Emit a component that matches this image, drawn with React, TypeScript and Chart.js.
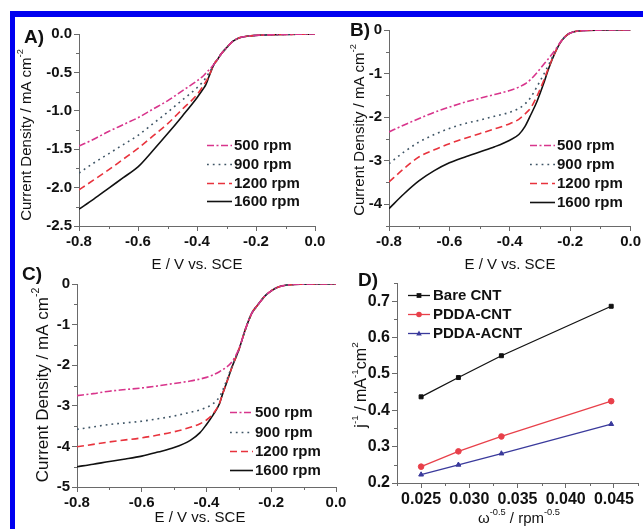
import React, { useEffect, useRef } from 'react';
import { Chart, registerables } from 'chart.js';
Chart.register(...registerables);

const W = 643;
const H = 529;
const FONT = '"Liberation Sans", Arial, sans-serif';
const AXIS = '#6a6a6a';
const TXT = '#111';

// ---------- Panel A data ----------
const eA = [-0.8, -0.75, -0.7, -0.65, -0.6, -0.55, -0.5, -0.45, -0.4, -0.38, -0.37, -0.36, -0.35, -0.34, -0.33, -0.32, -0.3, -0.28, -0.26, -0.24, -0.22, -0.2, -0.15, -0.1, -0.05, 0];
const a500 = [-1.46, -1.37, -1.27, -1.18, -1.09, -0.98, -0.87, -0.74, -0.61, -0.55, -0.51, -0.47, -0.43, -0.38, -0.33, -0.27, -0.18, -0.1, -0.055, -0.035, -0.025, -0.018, -0.01, -0.006, -0.003, 0];
const a900 = [-1.81, -1.68, -1.56, -1.44, -1.32, -1.17, -1.02, -0.86, -0.7, -0.62, -0.57, -0.51, -0.45, -0.38, -0.33, -0.27, -0.18, -0.1, -0.055, -0.035, -0.025, -0.018, -0.01, -0.006, -0.003, 0];
const a1200 = [-2.03, -1.9, -1.77, -1.63, -1.49, -1.33, -1.17, -0.98, -0.79, -0.68, -0.62, -0.55, -0.46, -0.38, -0.33, -0.27, -0.18, -0.1, -0.055, -0.035, -0.025, -0.018, -0.01, -0.006, -0.003, 0];
const a1600 = [-2.28, -2.15, -2.01, -1.87, -1.73, -1.52, -1.3, -1.07, -0.83, -0.72, -0.66, -0.56, -0.46, -0.38, -0.33, -0.27, -0.18, -0.1, -0.055, -0.035, -0.025, -0.018, -0.01, -0.006, -0.003, 0];

// ---------- Panel B data ----------
const eB = [-0.8, -0.75, -0.7, -0.65, -0.6, -0.55, -0.5, -0.45, -0.4, -0.37, -0.35, -0.33, -0.31, -0.29, -0.27, -0.25, -0.23, -0.21, -0.19, -0.17, -0.15, -0.1, -0.05, 0];
const b500 = [-2.34, -2.18, -2.03, -1.89, -1.77, -1.66, -1.57, -1.48, -1.39, -1.31, -1.24, -1.13, -0.98, -0.81, -0.64, -0.46, -0.26, -0.11, -0.045, -0.02, -0.008, -0.002, 0, 0];
const b900 = [-3.07, -2.8, -2.57, -2.4, -2.26, -2.15, -2.07, -1.98, -1.89, -1.8, -1.7, -1.54, -1.3, -1.05, -0.78, -0.5, -0.26, -0.11, -0.045, -0.02, -0.008, -0.002, 0, 0];
const b1200 = [-3.49, -3.18, -2.91, -2.75, -2.61, -2.49, -2.38, -2.27, -2.15, -2.05, -1.93, -1.78, -1.52, -1.2, -0.84, -0.52, -0.26, -0.11, -0.045, -0.02, -0.008, -0.002, 0, 0];
const b1600 = [-4.1, -3.76, -3.46, -3.23, -3.05, -2.92, -2.8, -2.68, -2.53, -2.4, -2.22, -1.94, -1.64, -1.27, -0.86, -0.52, -0.26, -0.11, -0.045, -0.02, -0.008, -0.002, 0, 0];

// ---------- Panel C data ----------
const eC = [-0.8, -0.75, -0.7, -0.65, -0.6, -0.55, -0.5, -0.45, -0.42, -0.4, -0.38, -0.36, -0.35, -0.34, -0.32, -0.3, -0.28, -0.26, -0.24, -0.22, -0.2, -0.18, -0.16, -0.14, -0.1, -0.05, 0];
const c500 = [-2.75, -2.7, -2.64, -2.6, -2.56, -2.51, -2.45, -2.39, -2.34, -2.3, -2.24, -2.16, -2.11, -2.06, -1.9, -1.6, -1.12, -0.72, -0.5, -0.3, -0.17, -0.08, -0.035, -0.015, -0.005, 0, 0];
const c900 = [-3.58, -3.52, -3.46, -3.42, -3.38, -3.32, -3.25, -3.16, -3.1, -3.04, -2.95, -2.78, -2.62, -2.42, -2.0, -1.62, -1.12, -0.72, -0.5, -0.3, -0.17, -0.08, -0.035, -0.015, -0.005, 0, 0];
const c1200 = [-4.01, -3.95, -3.89, -3.84, -3.79, -3.72, -3.64, -3.53, -3.44, -3.35, -3.2, -2.94, -2.7, -2.48, -2.02, -1.62, -1.12, -0.72, -0.5, -0.3, -0.17, -0.08, -0.035, -0.015, -0.005, 0, 0];
const c1600 = [-4.5, -4.44, -4.37, -4.31, -4.24, -4.14, -4.03, -3.85, -3.66, -3.46, -3.23, -2.95, -2.7, -2.48, -2.02, -1.62, -1.12, -0.72, -0.5, -0.3, -0.17, -0.08, -0.035, -0.015, -0.005, 0, 0];

// ---------- Panel D data ----------
const dX = [0.025, 0.02887, 0.03333, 0.04472];
const dBare = [0.437, 0.49, 0.55, 0.686];
const dPdda = [0.245, 0.287, 0.328, 0.425];
const dAcnt = [0.223, 0.25, 0.281, 0.362];

const rpmLabels = ['500 rpm', '900 rpm', '1200 rpm', '1600 rpm'];
const rpmColors = ['#d8358c', '#3f5566', '#e8333d', '#111111'];
const rpmDash = [[7, 2.5, 2, 2.5], [1.8, 4], [7, 4], []];

const dLabels = ['Bare CNT', 'PDDA-CNT', 'PDDA-ACNT'];
const dColors = ['#111111', '#e8404a', '#3a3a9c'];
const dMarkers = ['rect', 'circle', 'triangle'];

const pts = (xs: number[], ys: number[]) => xs.map((x, i) => ({ x, y: ys[i] }));

function rpmSets(xs: number[], series: number[][]) {
  return series.map((ys, i) => ({
    label: rpmLabels[i],
    data: pts(xs, ys),
    borderColor: rpmColors[i],
    backgroundColor: rpmColors[i],
    borderDash: rpmDash[i],
    borderWidth: 1.6,
    pointRadius: 0,
    cubicInterpolationMode: 'monotone',
    fill: false,
  }));
}

function dSets() {
  return [dBare, dPdda, dAcnt].map((ys, i) => ({
    label: dLabels[i],
    data: pts(dX, ys),
    borderColor: dColors[i],
    backgroundColor: dColors[i],
    borderDash: [],
    borderWidth: 1.3,
    pointRadius: 2.8,
    pointStyle: dMarkers[i],
    pointBorderWidth: 1,
    tension: 0,
    fill: false,
  }));
}

const isMajor = (v: number, m: number) => Math.abs(v / m - Math.round(v / m)) < 1e-6;
const clean = (v: number) => (Math.abs(v) < 1e-9 ? 0 : v);
const fmt1 = (v: number) => clean(v).toFixed(1);
const fmtInt = (v: number) => String(Math.round(clean(v)));
const fmt3 = (v: number) => clean(v).toFixed(3);

type Part = [string, boolean];
function drawRich(ctx: CanvasRenderingContext2D, parts: Part[], cx: number, cy: number, size: number, rotate: boolean) {
  const fnt = (s: number) => `${s}px ${FONT}`;
  const widths: number[] = [];
  let total = 0;
  parts.forEach(([t, sup]) => {
    ctx.font = fnt(sup ? size * 0.62 : size);
    const w = ctx.measureText(t).width;
    widths.push(w);
    total += w;
  });
  ctx.save();
  ctx.translate(cx, cy);
  if (rotate) ctx.rotate(-Math.PI / 2);
  ctx.textAlign = 'left';
  ctx.textBaseline = 'middle';
  ctx.fillStyle = TXT;
  let x = -total / 2;
  parts.forEach(([t, sup], i) => {
    ctx.font = fnt(sup ? size * 0.62 : size);
    ctx.fillText(t, x, sup ? -size * 0.42 : 0);
    x += widths[i];
  });
  ctx.restore();
}

function drawMarker(ctx: CanvasRenderingContext2D, style: string, x: number, y: number, r: number) {
  ctx.beginPath();
  if (style === 'rect') {
    ctx.rect(x - r * 0.85, y - r * 0.85, r * 1.7, r * 1.7);
  } else if (style === 'triangle') {
    ctx.moveTo(x, y - r * 1.1);
    ctx.lineTo(x + r, y + r * 0.7);
    ctx.lineTo(x - r, y + r * 0.7);
    ctx.closePath();
  } else {
    ctx.arc(x, y, r, 0, Math.PI * 2);
  }
  ctx.fill();
}

const decor = {
  id: 'decor',
  afterDraw(chart: any, _a: any, o: any) {
    const ctx: CanvasRenderingContext2D = chart.ctx;
    ctx.save();
    // minor ticks
    ctx.strokeStyle = AXIS;
    ctx.lineWidth = 1;
    ctx.setLineDash([]);
    const sx = chart.scales.x;
    const sy = chart.scales.y;
    sx.ticks.forEach((t: any) => {
      if (t.label !== '') return;
      const p = Math.round(sx.getPixelForValue(t.value)) + 0.5;
      ctx.beginPath();
      ctx.moveTo(p, sx.top);
      ctx.lineTo(p, sx.top + 3);
      ctx.stroke();
    });
    sy.ticks.forEach((t: any) => {
      if (t.label !== '') return;
      const p = Math.round(sy.getPixelForValue(t.value)) + 0.5;
      ctx.beginPath();
      ctx.moveTo(sy.right, p);
      ctx.lineTo(sy.right - 3, p);
      ctx.stroke();
    });
    // panel label
    ctx.fillStyle = TXT;
    ctx.font = `bold 19px ${FONT}`;
    ctx.textAlign = 'center';
    ctx.textBaseline = 'middle';
    ctx.fillText(o.label, o.labelPos[0], o.labelPos[1]);
    // titles
    drawRich(ctx, o.xTitle.parts, o.xTitle.x, o.xTitle.y, o.xTitle.size, false);
    drawRich(ctx, o.yTitle.parts, o.yTitle.x, o.yTitle.y, o.yTitle.size, true);
    // legend
    const lg = o.legend;
    chart.data.datasets.forEach((ds: any, i: number) => {
      const y = lg.rows[i] + 0.5;
      ctx.strokeStyle = ds.borderColor;
      ctx.lineWidth = ds.borderWidth;
      ctx.setLineDash(ds.borderDash || []);
      ctx.beginPath();
      ctx.moveTo(lg.x1, y);
      ctx.lineTo(lg.x2, y);
      ctx.stroke();
      ctx.setLineDash([]);
      if (ds.pointRadius > 0) {
        ctx.fillStyle = ds.borderColor;
        drawMarker(ctx, ds.pointStyle, (lg.x1 + lg.x2) / 2, y, ds.pointRadius);
      }
      ctx.fillStyle = TXT;
      ctx.font = `bold 15px ${FONT}`;
      ctx.textAlign = 'left';
      ctx.textBaseline = 'middle';
      ctx.fillText(ds.label, lg.tx, y);
    });
    ctx.restore();
  },
};

type Spec = any;

const specs: Spec[] = [
  {
    area: [79, 34, 315, 226],
    x: { min: -0.8, max: 0, step: 0.1, major: 0.2, fmt: fmt1 },
    y: { min: -2.5, max: 0, step: 0.25, major: 0.5, fmt: fmt1 },
    tickSize: 15,
    datasets: () => rpmSets(eA, [a500, a900, a1200, a1600]),
    decor: {
      label: 'A)', labelPos: [34, 38],
      xTitle: { parts: [['E / V vs. SCE', false]], x: 197, y: 265, size: 15 },
      yTitle: { parts: [['Current Density / mA cm', false], ['-2', true]], x: 27, y: 135, size: 15 },
      legend: { x1: 207, x2: 232, tx: 234, rows: [145, 164, 183, 201] },
    },
  },
  {
    area: [389, 30, 631, 226],
    x: { min: -0.8, max: 0, step: 0.1, major: 0.2, fmt: fmt1 },
    y: { min: -4.5, max: 0, step: 0.5, major: 1, fmt: fmtInt },
    tickSize: 15,
    datasets: () => rpmSets(eB, [b500, b900, b1200, b1600]),
    decor: {
      label: 'B)', labelPos: [360, 31],
      xTitle: { parts: [['E / V vs. SCE', false]], x: 510, y: 265, size: 15 },
      yTitle: { parts: [['Current Density / mA cm', false], ['-2', true]], x: 360, y: 130, size: 15 },
      legend: { x1: 530, x2: 555, tx: 557, rows: [145, 164, 183, 202] },
    },
  },
  {
    area: [77, 284, 336, 487],
    x: { min: -0.8, max: 0, step: 0.1, major: 0.2, fmt: fmt1 },
    y: { min: -5, max: 0, step: 0.5, major: 1, fmt: fmtInt },
    tickSize: 15,
    datasets: () => rpmSets(eC, [c500, c900, c1200, c1600]),
    decor: {
      label: 'C)', labelPos: [32, 275],
      xTitle: { parts: [['E / V vs. SCE', false]], x: 200, y: 518, size: 15 },
      yTitle: { parts: [['Current Density / mA cm', false], ['-2', true]], x: 43, y: 385, size: 17 },
      legend: { x1: 230, x2: 253, tx: 255, rows: [412, 432, 451, 470] },
    },
  },
  {
    area: [397, 283, 642, 483],
    x: { min: 0.0225, max: 0.0475, step: 0.0025, major: 0.005, fmt: fmt3 },
    y: { min: 0.2, max: 0.75, step: 0.05, major: 0.1, fmt: fmt1 },
    tickSize: 16,
    datasets: dSets,
    decor: {
      label: 'D)', labelPos: [368, 281],
      xTitle: { parts: [['\u03c9', false], ['-0.5', true], [' / rpm', false], ['-0.5', true]], x: 519, y: 519, size: 15 },
      yTitle: { parts: [['j', false], ['-1', true], [' / mA', false], ['-1', true], ['cm', false], ['2', true]], x: 362, y: 385, size: 16 },
      legend: { x1: 408, x2: 430, tx: 433, rows: [295, 314, 333] },
    },
  },
];

const YW = 60;
const XH = 30;

function buildConfig(s: Spec): any {
  const [L, T, R, B] = s.area;
  const axis = (a: any, isX: boolean) => ({
    type: 'linear',
    min: a.min,
    max: a.max,
    grid: {
      drawOnChartArea: false,
      drawTicks: true,
      tickLength: 5,
      lineWidth: 1,
      color: (c: any) => (c.tick && c.tick.label !== '' ? AXIS : 'rgba(0,0,0,0)'),
    },
    border: { display: true, color: AXIS, width: 1 },
    ticks: {
      stepSize: a.step,
      autoSkip: false,
      maxRotation: 0,
      minRotation: 0,
      padding: 2,
      color: TXT,
      font: { family: FONT, weight: 'bold', size: s.tickSize },
      callback: (v: number) => (isMajor(v, a.major) ? a.fmt(v) : ''),
    },
    afterFit: (sc: any) => {
      if (isX) sc.height = XH;
      else sc.width = YW;
    },
  });
  return {
    type: 'line',
    data: { datasets: s.datasets() },
    options: {
      responsive: false,
      animation: false,
      events: [],
      devicePixelRatio: 1,
      layout: { padding: { left: L - YW, top: T, right: W - R, bottom: H - B - XH } },
      scales: { x: axis(s.x, true), y: axis(s.y, false) },
      plugins: {
        legend: { display: false },
        tooltip: { enabled: false },
        title: { display: false },
        decor: s.decor,
      },
    },
    plugins: [decor],
  };
}

function Panel({ spec }: { spec: Spec }) {
  const ref = useRef<HTMLCanvasElement>(null);
  useEffect(() => {
    const chart = new Chart(ref.current as HTMLCanvasElement, buildConfig(spec));
    return () => chart.destroy();
  }, [spec]);
  return (
    <canvas
      ref={ref}
      width={W}
      height={H}
      style={{ position: 'absolute', left: 0, top: 0, width: W, height: H }}
    />
  );
}

export default function App() {
  return (
    <div style={{ position: 'fixed', left: 0, top: 0, width: W, height: H, background: '#fff', overflow: 'hidden' }}>
      <div
        style={{
          position: 'absolute',
          left: 10,
          top: 11,
          width: W,
          height: H,
          borderTop: '6px solid #0000f0',
          borderLeft: '5px solid #0000f0',
        }}
      />
      {specs.map((s, i) => (
        <Panel key={i} spec={s} />
      ))}
    </div>
  );
}
